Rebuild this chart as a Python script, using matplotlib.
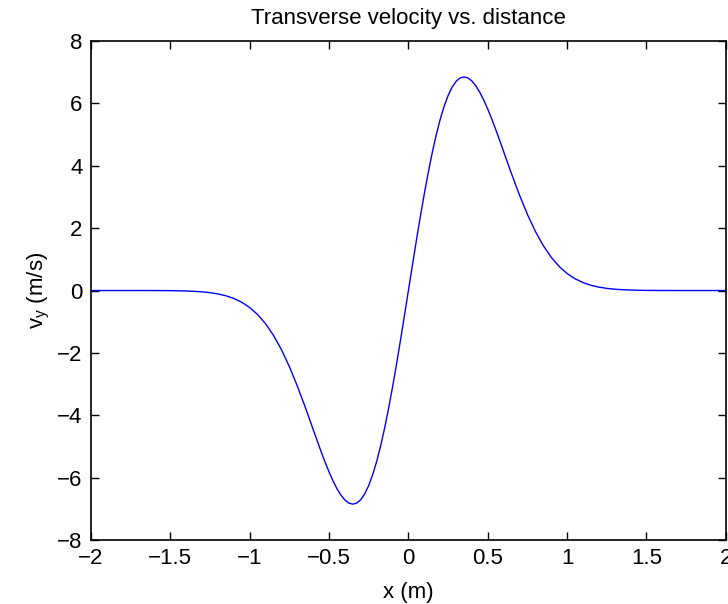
import matplotlib.pyplot as plt

plt.rcParams["font.family"] = ["Liberation Sans", "DejaVu Sans"]

# --- Data ---
x_m = [-2.0, -1.9, -1.8, -1.7, -1.6, -1.5, -1.45, -1.4, -1.35, -1.3, -1.25, -1.2,
       -1.15, -1.1, -1.05, -1.0, -0.95, -0.9, -0.85, -0.8, -0.75, -0.7, -0.65,
       -0.625, -0.6, -0.575, -0.55, -0.525, -0.5, -0.475, -0.45, -0.425, -0.4,
       -0.375, -0.35, -0.325, -0.3, -0.275, -0.25, -0.225, -0.2, -0.175, -0.15,
       -0.125, -0.1, -0.075, -0.05, -0.025, 0.0,
       0.025, 0.05, 0.075, 0.1, 0.125, 0.15, 0.175, 0.2, 0.225, 0.25, 0.275,
       0.3, 0.325, 0.35, 0.375, 0.4, 0.425, 0.45, 0.475, 0.5, 0.525, 0.55,
       0.575, 0.6, 0.625, 0.65, 0.7, 0.75, 0.8, 0.85, 0.9, 0.95, 1.0, 1.05,
       1.1, 1.15, 1.2, 1.25, 1.3, 1.35, 1.4, 1.45, 1.5, 1.6, 1.7, 1.8, 1.9, 2.0]
vy = [0.0, 0.0, 0.0, 0.0, -0.001, -0.004, -0.008, -0.015, -0.026, -0.042,
      -0.069, -0.109, -0.168, -0.255, -0.377, -0.545, -0.772, -1.066, -1.439,
      -1.896, -2.440, -3.061, -3.742,
      -4.097, -4.457, -4.815, -5.167, -5.503, -5.818, -6.105, -6.356, -6.564,
      -6.720, -6.818, -6.850, -6.816, -6.706, -6.518, -6.251, -5.906, -5.482,
      -4.984, -4.416, -3.785, -3.098, -2.365, -1.597, -0.805, 0.0,
      0.805, 1.597, 2.365, 3.098, 3.785, 4.416, 4.984, 5.482, 5.906, 6.251,
      6.518, 6.706, 6.816, 6.850, 6.818, 6.720, 6.564, 6.356, 6.105, 5.818,
      5.503, 5.167, 4.815, 4.457, 4.097, 3.742, 3.061, 2.440, 1.896, 1.439,
      1.066, 0.772, 0.545, 0.377, 0.255, 0.168, 0.109, 0.069, 0.042, 0.026,
      0.015, 0.008, 0.004, 0.001, 0.0, 0.0, 0.0, 0.0]

x_ticks = [-2, -1.5, -1, -0.5, 0, 0.5, 1, 1.5, 2]
x_labels = ["\u22122", "\u22121.5", "\u22121", "\u22120.5", "0", "0.5", "1", "1.5", "2"]
y_ticks = [-8, -6, -4, -2, 0, 2, 4, 6, 8]
y_labels = ["\u22128", "\u22126", "\u22124", "\u22122", "0", "2", "4", "6", "8"]

fig = plt.figure(figsize=(7.28, 6.04), dpi=100)
ax = fig.add_axes([0.125, 0.106, 0.872, 0.826])

ax.plot(x_m, vy, color="blue", linewidth=1.0)

ax.set_xlim(-2, 2)
ax.set_ylim(-8, 8)
ax.set_xticks(x_ticks)
ax.set_xticklabels(x_labels)
ax.set_yticks(y_ticks)
ax.set_yticklabels(y_labels)

ax.tick_params(direction="in", length=6, width=1, top=True, right=True,
               labelsize=16, pad=6, colors="black")
for s in ax.spines.values():
    s.set_linewidth(1.2)

ax.set_title("Transverse velocity vs. distance", fontsize=16, pad=12)
ax.set_xlabel("x (m)", fontsize=16, labelpad=9)
ax.set_ylabel(r"v$_{\mathregular{y}}$ (m/s)", fontsize=16, labelpad=4)

fig.savefig("out.png", dpi=100)
